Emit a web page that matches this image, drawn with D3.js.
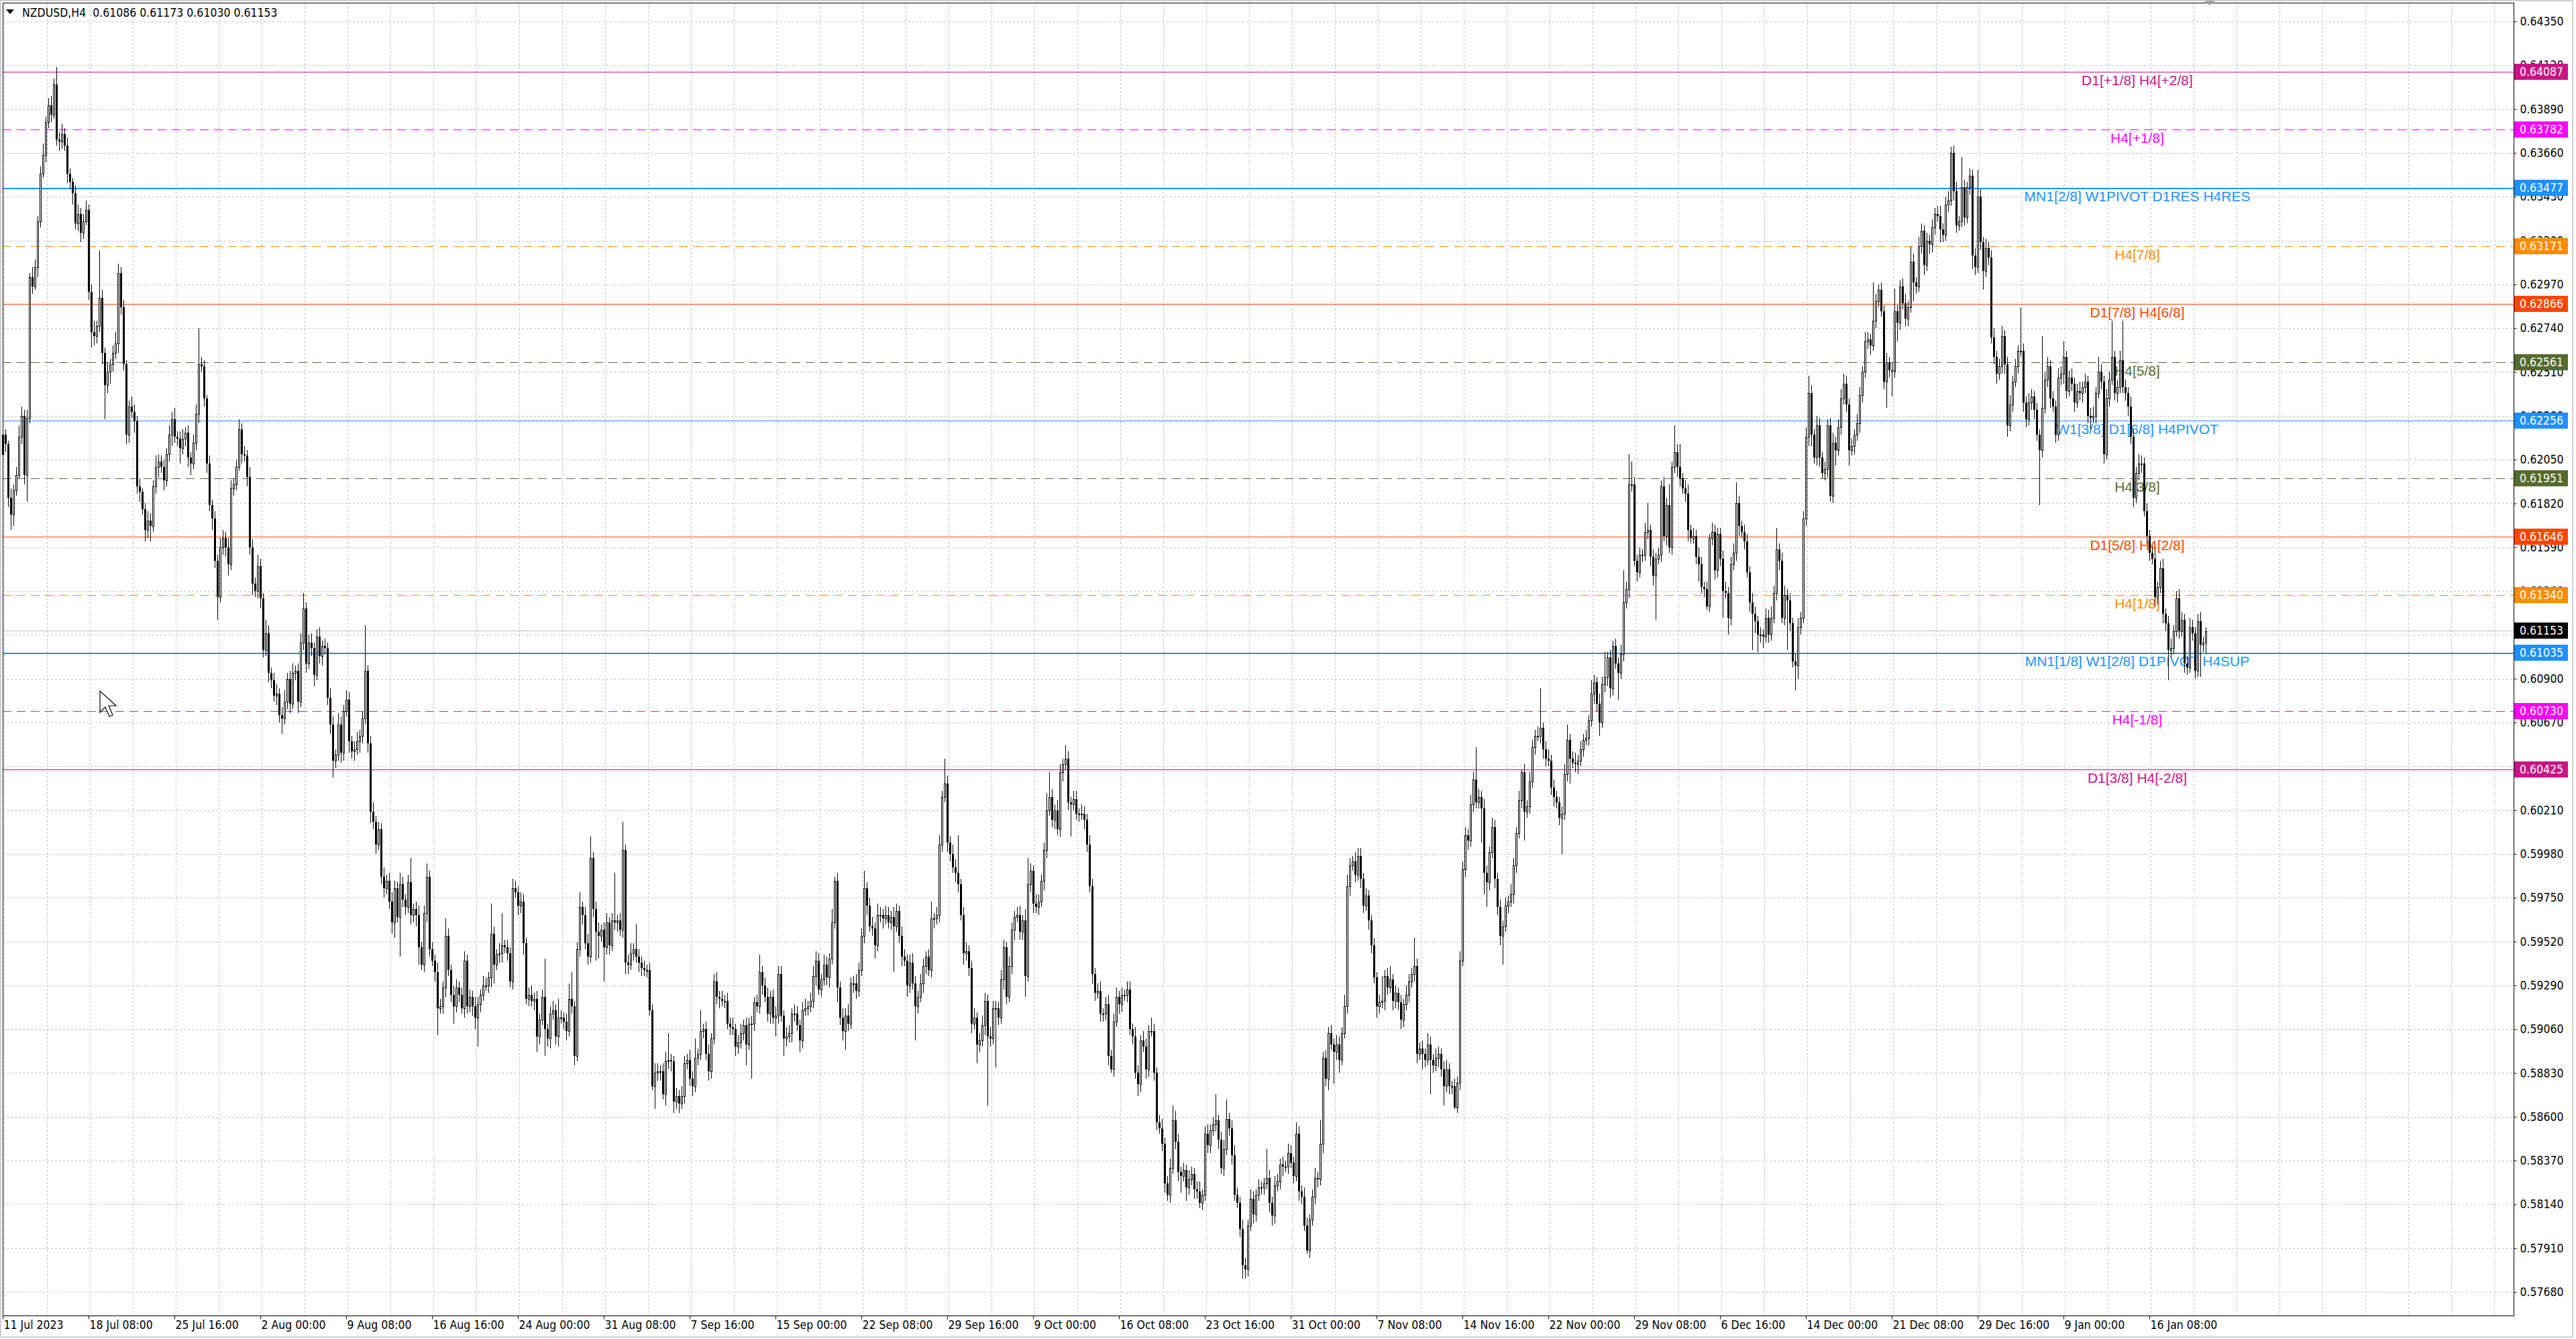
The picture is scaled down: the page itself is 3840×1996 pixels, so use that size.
<!DOCTYPE html>
<html>
<head>
<meta charset="utf-8">
<title>NZDUSD,H4</title>
<script src="https://d3js.org/d3.v7.min.js"></script>
<style>
    html, body { margin: 0; padding: 0; background: #fff; }
    svg { display: block; }
    .axis text, .title {
        font-family: "DejaVu Sans Condensed", "DejaVu Sans", sans-serif;
        font-stretch: condensed;
        font-size: 17.5px;
        fill: #000;
    }
    .axis path { display: none; }
    .axis line { stroke: #000; }
    .grid line { stroke: #c0c0c0; stroke-dasharray: 3,3; }
    .lvl-label { font-family: "Liberation Sans", Arial, sans-serif; font-size: 21px; text-anchor: middle; }
    .tag text { font-family: "DejaVu Sans Condensed", "DejaVu Sans", sans-serif; font-stretch: condensed; font-size: 17.5px; fill: #fff; }
</style>
</head>
<body>

<svg width="3840" height="1996"></svg>

<script>
    // H4 bars, prices in 0.0001 units; each bar opens at the previous close
    var firstOpen = 6208;
    var closes = [
        6218,6213,6185,6176,6189,6197,6217,6228,6197,6227,6301,6296,6306,6330,6355,6365,6382,6391,6386,6402,
        6373,6372,6376,6370,6355,6351,6345,6329,6334,6324,6330,6336,6293,6272,6270,6275,6290,6261,6244,6251,
        6255,6261,6266,6303,6285,6255,6218,6233,6230,6225,6191,6188,6179,6168,6173,6170,6191,6201,6204,6201,
        6194,6208,6218,6226,6217,6216,6211,6216,6219,6206,6203,6214,6229,6255,6254,6237,6203,6181,6174,6152,
        6133,6159,6164,6159,6150,6190,6192,6201,6221,6208,6207,6196,6159,6140,6136,6149,6132,6105,6114,6093,
        6089,6081,6082,6071,6069,6078,6090,6077,6093,6094,6078,6109,6127,6098,6109,6106,6092,6112,6102,6107,
        6106,6080,6066,6047,6050,6066,6051,6073,6079,6057,6052,6053,6057,6060,6069,6094,6056,6020,6015,6003,
        6011,5986,5980,5984,5973,5962,5980,5965,5982,5974,5970,5983,5966,5969,5966,5949,5940,5967,5986,5948,
        5942,5936,5917,5918,5928,5955,5937,5924,5918,5928,5924,5917,5942,5918,5923,5918,5912,5919,5924,5929,
        5929,5933,5956,5940,5945,5946,5950,5949,5946,5931,5980,5978,5971,5973,5951,5922,5924,5921,5922,5902,
        5911,5923,5906,5901,5914,5916,5902,5912,5912,5910,5905,5922,5918,5892,5948,5970,5966,5951,5944,5996,
        5969,5957,5955,5958,5949,5962,5950,5963,5962,5963,5958,6000,5941,5940,5946,5948,5944,5941,5938,5937,
        5937,5916,5876,5883,5884,5884,5872,5889,5890,5889,5868,5871,5867,5871,5888,5890,5880,5876,5891,5893,
        5905,5906,5893,5884,5901,5931,5923,5922,5921,5921,5909,5907,5906,5897,5899,5904,5908,5898,5909,5909,
        5920,5918,5936,5929,5923,5914,5923,5912,5913,5935,5913,5901,5902,5904,5914,5914,5908,5900,5916,5917,
        5918,5921,5934,5942,5927,5932,5940,5933,5943,5962,5984,5928,5912,5905,5913,5909,5930,5930,5926,5937,
        5955,5980,5971,5960,5959,5950,5966,5966,5964,5966,5962,5965,5960,5968,5955,5944,5942,5929,5941,5930,
        5918,5923,5930,5939,5944,5937,5964,5964,5966,6003,6028,6035,6004,5998,5991,5988,5982,5966,5946,5947,
        5938,5909,5912,5898,5900,5908,5921,5902,5901,5917,5917,5912,5932,5949,5923,5939,5958,5965,5966,5957,
        5963,5934,5982,5989,5972,5970,5973,5984,6000,6021,6028,6016,6021,6011,6041,6045,6048,6025,6024,6027,
        6019,6019,6019,6016,6003,5981,5935,5925,5926,5914,5914,5919,5892,5885,5910,5923,5919,5924,5924,5927,
        5906,5902,5883,5877,5900,5897,5885,5905,5905,5883,5857,5854,5846,5825,5819,5833,5858,5847,5831,5829,
        5832,5823,5827,5830,5822,5821,5815,5819,5851,5845,5853,5856,5858,5848,5833,5843,5859,5854,5840,5819,
        5815,5801,5782,5780,5803,5817,5809,5819,5823,5823,5825,5828,5815,5808,5824,5826,5835,5834,5834,5841,
        5836,5829,5851,5821,5818,5803,5790,5806,5818,5828,5827,5846,5891,5880,5904,5898,5894,5898,5890,5904,
        5918,5981,5992,5994,5987,5997,5985,5971,5976,5963,5950,5933,5918,5920,5921,5934,5928,5932,5921,5925,
        5920,5911,5919,5924,5931,5935,5939,5893,5896,5893,5890,5898,5890,5887,5891,5893,5885,5876,5885,5876,
        5876,5865,5878,5942,5990,6008,6005,6024,6037,6025,6028,6022,5988,5983,5999,6012,5985,5970,5955,5960,
        5971,5973,5977,5992,6009,6026,6041,6020,6023,6036,6054,6060,6060,6064,6053,6048,6047,6033,6028,6025,
        6017,6019,6040,6058,6048,6046,6045,6047,6053,6058,6059,6068,6082,6088,6077,6067,6087,6091,6101,6085,
        6107,6098,6093,6103,6130,6137,6192,6192,6152,6146,6155,6155,6167,6168,6154,6144,6153,6155,6191,6165,
        6181,6159,6201,6209,6201,6195,6190,6187,6168,6164,6165,6154,6150,6138,6137,6128,6164,6167,6147,6166,
        6153,6136,6135,6122,6150,6156,6182,6170,6167,6162,6146,6130,6124,6120,6113,6113,6112,6122,6113,6122,
        6135,6158,6152,6122,6134,6131,6119,6099,6097,6117,6122,6174,6217,6240,6218,6206,6223,6206,6198,6200,
        6223,6186,6214,6210,6222,6237,6245,6234,6210,6212,6218,6224,6239,6251,6267,6268,6265,6278,6288,6294,
        6283,6246,6256,6252,6251,6283,6277,6296,6287,6279,6285,6309,6298,6296,6317,6325,6307,6320,6318,6327,
        6334,6333,6326,6323,6339,6341,6366,6346,6328,6330,6348,6332,6348,6354,6312,6306,6343,6319,6304,6316,
        6311,6269,6259,6250,6254,6270,6255,6223,6234,6246,6254,6262,6262,6235,6226,6235,6238,6231,6218,6210,
        6232,6247,6254,6237,6233,6218,6248,6250,6259,6241,6248,6245,6235,6241,6240,6243,6246,6228,6227,6228,
        6240,6251,6246,6208,6237,6247,6259,6240,6243,6257,6243,6240,6233,6217,6185,6198,6203,6203,6178,6165,
        6156,6153,6133,6138,6148,6124,6119,6105,6106,6115,6132,6115,6121,6098,6096,6117,6114,6094,6120,6108,
        6109,6115
    ];
    // wick length above the body / below the body, same units
    var upperWick = [
        4,3,2,5,3,4,6,5,3,4,2,5,4,3,4,6,3,4,5,3,
        9,4,5,3,4,3,2,4,5,3,4,5,3,4,6,3,25,4,3,5,
        3,4,6,5,3,4,2,3,5,4,3,4,2,3,5,4,3,6,4,3,
        4,3,5,4,6,3,4,5,3,4,3,4,5,19,4,3,2,4,3,4,
        3,5,4,3,5,4,3,4,5,3,4,3,5,4,3,6,4,3,7,4,
        3,4,5,3,4,6,3,4,5,3,4,5,8,3,4,5,3,4,5,3,
        4,3,5,4,3,6,4,3,5,4,3,4,5,3,4,24,3,4,5,3,
        4,3,5,3,4,5,4,3,6,4,3,4,13,3,4,5,3,4,7,3,
        4,3,5,4,3,9,4,3,5,4,3,4,5,3,4,3,5,4,3,5,
        4,3,16,4,3,5,17,3,4,3,5,4,3,5,4,3,4,5,3,4,
        3,4,20,3,4,5,3,10,4,3,4,8,14,3,4,8,3,4,5,11,
        3,4,5,3,4,5,3,4,25,3,4,15,3,4,5,3,13,4,3,4,
        3,4,3,5,4,3,4,5,14,3,3,4,3,5,4,3,5,4,10,3,
        11,3,4,5,3,4,5,3,4,3,4,3,5,3,4,5,3,4,3,4,
        3,4,9,3,4,5,3,4,5,4,4,3,5,4,3,5,4,3,4,5,
        3,4,5,5,4,3,5,4,3,7,2,4,3,5,4,6,3,4,5,4,
        4,9,3,4,5,3,6,4,3,5,4,3,5,4,3,5,4,3,4,5,
        4,3,5,4,3,4,9,3,4,5,3,13,4,3,5,4,20,3,4,5,
        3,4,5,3,4,5,4,3,5,4,4,3,5,4,3,5,4,3,4,5,
        3,6,14,4,3,5,4,3,4,9,13,4,3,5,4,3,7,4,3,4,
        4,3,5,4,3,5,4,3,4,5,3,4,5,3,4,5,3,4,3,4,
        4,3,5,4,3,5,4,3,7,4,3,4,5,3,4,5,8,5,4,3,
        4,3,5,4,3,4,5,3,4,5,3,4,14,3,4,5,10,3,4,5,
        4,3,5,4,3,5,4,3,4,3,3,15,4,3,5,4,3,4,3,5,
        4,3,6,4,3,5,4,3,4,5,3,12,3,4,3,4,3,5,4,3,
        6,6,4,3,5,4,4,3,4,3,3,4,3,4,13,3,4,7,3,4,
        3,4,3,5,4,3,15,4,3,4,3,6,4,3,5,4,3,4,5,3,
        3,4,3,5,4,4,3,5,4,17,4,3,5,4,3,5,4,3,4,3,
        4,3,5,4,3,5,1,4,3,5,4,3,5,21,3,4,5,3,4,3,
        3,4,5,8,3,4,5,3,4,3,4,3,7,4,3,5,4,13,3,4,
        3,4,3,5,17,4,16,12,4,3,4,3,5,14,3,4,3,4,3,5,
        4,11,3,14,4,12,3,4,5,3,4,3,5,4,3,4,2,5,4,3,
        3,4,5,3,4,5,11,4,3,4,4,3,5,4,3,4,3,5,4,6,
        4,11,3,4,5,3,4,3,4,5,3,4,5,9,4,3,5,4,3,4,
        3,4,5,3,4,5,5,4,3,4,3,5,4,3,5,4,3,20,4,3,
        4,3,5,3,4,12,3,3,4,5,3,8,4,3,5,4,3,4,3,4,
        3,4,5,3,4,5,3,4,5,3,16,4,3,4,3,4,14,4,3,5,
        3,4,5,3,4,5,3,4,5,3,4,3,23,4,3,5,4,3,4,3,
        38,4,5,3,4,3,5,4,8,3,4,5,3,4,5,3,4,3,4,5,
        3,8,4,3,5,4,19,3,4,5,21,4,3,5,4,3,5,4,3,4,
        3,4,5,3,4,5,3,4,5,3,4,5,4,3,4,5,4,3,4,5,
        3,2
    ];
    var lowerWick = [
        3,4,5,8,6,3,2,4,5,14,3,4,2,5,3,2,4,3,4,2,
        3,5,4,3,5,4,6,3,4,5,3,2,4,8,5,4,3,6,18,4,
        6,4,3,5,4,3,5,4,3,6,4,5,3,6,4,8,3,4,5,3,
        5,3,4,6,3,4,8,3,4,5,6,3,4,5,3,4,5,3,6,4,
        12,3,4,5,6,3,4,3,2,5,3,5,4,6,3,4,5,4,3,5,
        4,3,5,4,8,3,4,5,3,4,6,3,4,5,3,4,6,3,4,5,
        3,4,5,9,4,3,5,4,3,6,4,5,3,6,4,3,5,6,4,5,
        3,4,5,3,4,6,8,3,21,4,4,3,5,4,6,9,3,4,5,4,
        3,5,14,3,4,5,3,4,9,3,4,3,5,4,3,5,6,15,4,3,
        3,4,5,10,3,4,5,3,4,3,4,3,5,4,6,3,4,3,5,8,
        4,3,14,4,5,3,4,5,3,4,5,3,4,5,3,4,5,3,4,3,
        4,15,12,3,18,4,5,3,4,5,3,4,6,5,3,4,3,5,4,3,
        4,3,2,12,4,5,3,6,4,5,6,4,5,3,4,3,4,5,3,4,
        3,4,3,5,4,3,4,5,3,4,3,4,3,5,4,3,4,11,3,29,
        4,3,4,5,3,4,5,3,10,4,3,9,4,3,5,4,3,6,4,3,
        4,3,4,5,3,4,3,4,5,3,3,8,4,5,10,4,3,5,4,3,
        3,4,5,3,4,7,3,4,5,3,3,4,24,3,4,5,3,6,4,3,
        18,4,3,5,4,3,4,5,3,4,4,3,5,4,3,5,4,3,6,4,
        4,5,3,10,4,3,5,36,4,3,31,4,3,5,4,3,4,5,3,4,
        4,11,3,4,5,3,4,3,5,4,3,4,5,3,4,5,3,4,17,3,
        3,4,3,5,4,3,5,4,3,4,4,3,5,2,4,3,5,4,3,4,
        3,4,3,6,4,3,5,4,3,4,4,3,4,5,3,4,3,4,5,9,
        3,7,4,3,5,4,3,4,3,4,4,3,4,5,3,4,3,4,5,3,
        3,4,7,5,4,3,5,4,3,4,4,3,5,5,4,3,4,5,3,4,
        3,4,3,5,4,3,2,4,3,4,4,3,5,4,6,3,17,4,7,3,
        3,4,5,3,4,3,5,4,3,5,4,3,6,4,3,5,4,3,5,4,
        4,5,4,3,4,3,4,5,3,8,4,3,18,4,3,5,4,10,3,4,
        4,1,3,4,3,4,5,3,4,3,3,18,11,13,4,3,5,4,5,15,
        3,4,3,5,4,3,4,15,3,4,3,4,3,4,5,4,3,4,5,3,
        4,19,3,4,13,3,4,5,3,4,3,4,3,5,4,7,3,4,5,5,
        4,3,14,3,4,3,5,4,3,5,3,4,3,4,5,5,23,3,4,3,
        5,3,4,3,5,4,3,4,6,3,3,4,9,3,4,2,3,4,5,4,
        4,14,3,9,4,3,4,5,3,4,3,5,19,6,9,4,6,3,4,3,
        3,4,5,3,4,26,4,3,13,7,4,3,4,5,6,3,4,5,3,4,
        4,3,4,8,3,4,3,4,8,3,4,3,5,4,3,4,5,3,4,3,
        3,4,14,4,13,3,10,4,3,4,4,3,10,4,3,4,5,3,5,4,
        4,3,7,4,3,4,3,5,4,3,3,4,3,4,7,4,3,4,10,3,
        4,3,4,5,3,4,5,6,3,4,3,4,3,5,4,3,4,5,3,29,
        4,3,4,5,3,4,3,4,5,4,3,4,5,3,4,5,3,4,6,3,
        4,3,4,5,3,4,3,4,5,3,3,4,5,4,5,3,4,5,3,4,
        4,3,5,4,3,5,4,16,4,3,3,4,3,5,4,3,4,4,3,17,
        4,6
    ];

    // last bar quote shown in the header: open, high, low, close
    var lastQuote = [0.61086, 0.61173, 0.61030, 0.61153];

    var priceTicks = [0.64350, 0.64120, 0.63890, 0.63660, 0.63430, 0.63200, 0.62970, 0.62740, 0.62510, 0.62280,
        0.62050, 0.61820, 0.61590, 0.61360, 0.61130, 0.60900, 0.60670, 0.60440, 0.60210, 0.59980,
        0.59750, 0.59520, 0.59290, 0.59060, 0.58830, 0.58600, 0.58370, 0.58140, 0.57910, 0.57680];

    var dateBars = [0, 32, 64, 96, 128, 160, 192, 224, 256, 288, 320, 352, 384, 416, 448, 480, 512,
        544, 576, 608, 640, 672, 704, 736, 768, 800];
    var dateLabels = ["11 Jul 2023", "18 Jul 08:00", "25 Jul 16:00", "2 Aug 00:00", "9 Aug 08:00", "16 Aug 16:00",
        "24 Aug 00:00", "31 Aug 08:00", "7 Sep 16:00", "15 Sep 00:00", "22 Sep 08:00", "29 Sep 16:00",
        "9 Oct 00:00", "16 Oct 08:00", "23 Oct 16:00", "31 Oct 00:00", "7 Nov 08:00", "14 Nov 16:00",
        "22 Nov 00:00", "29 Nov 08:00", "6 Dec 16:00", "14 Dec 00:00", "21 Dec 08:00", "29 Dec 16:00",
        "9 Jan 00:00", "16 Jan 08:00"];

    // Murrey math levels
    var levelPrices = [0.64087, 0.63782, 0.63477, 0.63171, 0.62866, 0.62561, 0.62256,
        0.61951, 0.61646, 0.61340, 0.61035, 0.60730, 0.60425];
    var levelNames = ["D1[+1/8] H4[+2/8]", "H4[+1/8]", "MN1[2/8] W1PIVOT D1RES H4RES", "H4[7/8]",
        "D1[7/8] H4[6/8]", "H4[5/8]", "W1[3/8] D1[6/8] H4PIVOT", "H4[3/8]", "D1[5/8] H4[2/8]",
        "H4[1/8]", "MN1[1/8] W1[2/8] D1PIVOT H4SUP", "H4[-1/8]", "D1[3/8] H4[-2/8]"];

    // line colours per level (style only)
    var levelColors = ["#c71585", "#ff00ff", "#1e90ff", "#ff8c00", "#ff4500", "#556b2f", "#1e90ff",
        "#556b2f", "#ff4500", "#ff8c00", "#1e90ff", "#ff00ff", "#c71585"];

    var svg = d3.select("svg"),
        width = +svg.attr("width"),
        height = +svg.attr("height");

    var plot = {left: 4, right: 3747, top: 4, bottom: 1961},
        barStep = 4;

    var x = d3.scaleLinear()
        .domain([0, (plot.right - plot.left) / barStep])
        .range([plot.left, plot.right]);

    var y = d3.scaleLinear()
        .domain([priceTicks[priceTicks.length - 1], priceTicks[0]])
        .range([1926, 32]);

    var bars = closes.map(function(c, i) {
        var o = i ? closes[i - 1] : firstOpen;
        return {
            i: i,
            o: o / 1e4,
            c: c / 1e4,
            h: (Math.max(o, c) + upperWick[i]) / 1e4,
            l: (Math.min(o, c) - lowerWick[i]) / 1e4
        };
    });

    function py(p) { return Math.round(y(p)) + 0.5; }

    // window frame
    svg.append("rect")
        .attr("x", 1).attr("y", 1)
        .attr("width", width - 6).attr("height", height - 4)
        .attr("fill", "none").attr("stroke", "#d0d0d0").attr("stroke-width", 2);

    // grid
    var grid = svg.append("g").attr("class", "grid").attr("shape-rendering", "crispEdges");
    grid.selectAll(".h").data(priceTicks).enter().append("line")
        .attr("x1", plot.left).attr("x2", plot.right)
        .attr("y1", py).attr("y2", py);
    grid.selectAll(".v").data(d3.range(0, x.domain()[1], 16)).enter().append("line")
        .attr("x1", function(d) { return Math.round(x(d)) + 2.5; })
        .attr("x2", function(d) { return Math.round(x(d)) + 2.5; })
        .attr("y1", plot.top).attr("y2", plot.bottom);

    // level lines
    var lv = svg.append("g").attr("shape-rendering", "crispEdges");
    lv.selectAll("line").data(levelPrices).enter().append("line")
        .attr("x1", plot.left).attr("x2", plot.right)
        .attr("y1", py).attr("y2", py)
        .attr("stroke", function(d, i) { return levelColors[i]; })
        .attr("stroke-width", function(d, i) { return levelNames[i].indexOf("MN1") === 0 ? 2 : 1; })
        .attr("stroke-dasharray", function(d, i) { return levelNames[i].indexOf("[") === 2 && levelNames[i].indexOf("D1") < 0 ? "13,8" : null; });

    // current price line
    lv.append("line")
        .attr("x1", plot.left).attr("x2", plot.right)
        .attr("y1", py(lastQuote[3])).attr("y2", py(lastQuote[3]))
        .attr("stroke", "#c0c0c0");

    lv.selectAll("text").data(levelPrices).enter().append("text")
        .attr("class", "lvl-label")
        .attr("x", 3186)
        .attr("y", function(d) { return y(d) + 20; })
        .attr("fill", function(d, i) { return levelColors[i]; })
        .text(function(d, i) { return levelNames[i]; });

    // candles
    var cg = svg.append("g").attr("shape-rendering", "crispEdges");
    cg.selectAll("line").data(bars).enter().append("line")
        .attr("x1", function(d) { return Math.round(x(d.i)) + 0.5; })
        .attr("x2", function(d) { return Math.round(x(d.i)) + 0.5; })
        .attr("y1", function(d) { return y(d.h); })
        .attr("y2", function(d) { return y(d.l); })
        .attr("stroke", "#000");

    cg.selectAll("rect").data(bars).enter().append("rect")
        .attr("x", function(d) { return d.c >= d.o ? Math.round(x(d.i)) - 0.5 : Math.round(x(d.i)) - 1; })
        .attr("y", function(d) {
            var t = Math.round(y(Math.max(d.o, d.c)));
            return d.c >= d.o ? t + 0.5 : t;
        })
        .attr("width", function(d) { return d.c >= d.o ? 2 : 3; })
        .attr("height", function(d) {
            return Math.max(1, Math.round(y(Math.min(d.o, d.c))) - Math.round(y(Math.max(d.o, d.c))));
        })
        .attr("fill", function(d) { return d.c >= d.o ? "#fff" : "#000"; })
        .attr("stroke", function(d) { return d.c >= d.o ? "#000" : "none"; });

    // plot frame
    svg.append("rect")
        .attr("x", plot.left + 0.5).attr("y", plot.top + 0.5)
        .attr("width", plot.right - plot.left).attr("height", plot.bottom - plot.top)
        .attr("fill", "none").attr("stroke", "#000")
        .attr("shape-rendering", "crispEdges");

    // price axis
    svg.append("g")
        .attr("class", "axis")
        .attr("transform", "translate(" + (plot.right + 0.5) + ",0)")
        .call(d3.axisRight(y).tickValues(priceTicks).tickFormat(d3.format(".5f")).tickSize(4).tickPadding(5));

    // time axis
    var xa = svg.append("g")
        .attr("class", "axis")
        .attr("transform", "translate(0," + (plot.bottom + 0.5) + ")")
        .call(d3.axisBottom(x).tickValues(dateBars)
            .tickFormat(function(d, i) { return dateLabels[i]; })
            .tickSize(5).tickPadding(2));
    xa.selectAll("text").attr("text-anchor", "start").attr("x", 1);

    // price tags on the axis
    var tags = svg.append("g").attr("class", "tag").attr("shape-rendering", "crispEdges");
    var tagData = levelPrices.map(function(p, i) { return {p: p, c: levelColors[i]}; })
        .concat([{p: lastQuote[3], c: "#000"}]);
    var tg = tags.selectAll("g").data(tagData).enter().append("g")
        .attr("transform", function(d) { return "translate(" + (plot.right + 1) + "," + Math.round(y(d.p)) + ")"; });
    tg.append("rect")
        .attr("x", 0).attr("y", -12).attr("width", 80).attr("height", 24)
        .attr("fill", function(d) { return d.c; });
    tg.append("text")
        .attr("x", 8).attr("dy", "0.36em")
        .text(function(d) { return d3.format(".5f")(d.p); });

    // header
    svg.append("path")
        .attr("d", "M9,14 L21,14 L15,21 Z")
        .attr("fill", "#000");
    svg.append("text")
        .attr("class", "title")
        .attr("x", 33).attr("y", 25)
        .attr("xml:space", "preserve")
        .text("NZDUSD,H4  " + lastQuote.map(d3.format(".5f")).join(" "));

    // chart shift marker
    svg.append("path")
        .attr("d", "M3286,1 L3302,1 L3294,8 Z")
        .attr("fill", "#a0a0a0");

    // mouse pointer left on the chart
    svg.append("path")
        .attr("d", "M149,1030 L149,1062 L157,1054 L163,1068 L168,1066 L162,1052 L173,1052 Z")
        .attr("fill", "#fff").attr("stroke", "#000").attr("stroke-width", 1.2);
</script>

</body>
</html>
